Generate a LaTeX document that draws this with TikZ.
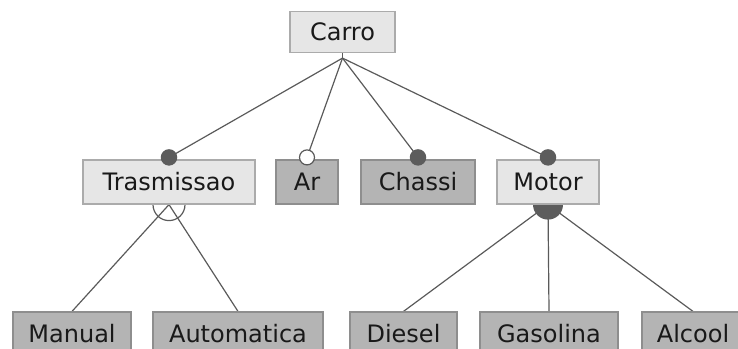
\documentclass[tikz,border=0pt]{standalone}
\usepackage{fontspec}
\setmainfont{DejaVu Sans}
\pgfdeclarelayer{edges}
\pgfdeclarelayer{marks}
\pgfsetlayers{edges,marks,main}
\definecolor{lightbox}{HTML}{E6E6E6}
\definecolor{lightborder}{HTML}{ABABAB}
\definecolor{darkbox}{HTML}{B4B4B4}
\definecolor{darkborder}{HTML}{8E8E8E}
\definecolor{markfill}{HTML}{5C5C5C}
\definecolor{wire}{HTML}{5A5A5A}
\tikzset{
  feat/.style={rectangle, draw=lightborder, fill=lightbox, line width=1.2pt,
    minimum height=44pt, inner sep=0pt, text=black!90,
    font=\fontsize{24}{28}\selectfont},
  leaf/.style={feat, draw=darkborder, fill=darkbox},
  link/.style={draw=wire, line width=1.2pt},
  mandatory/.style={circle, fill=markfill, minimum size=16.5pt, inner sep=0pt},
  optional/.style={circle, fill=white, draw=wire, line width=1.2pt, minimum size=15pt, inner sep=0pt},
  altgroup/.style={draw=wire, line width=1.2pt},
  orgroup/.style={fill=markfill},
}
\begin{document}
\begin{tikzpicture}[x=1pt,y=-1pt]
\useasboundingbox (0,0) rectangle (738,348);
\clip (0,0) rectangle (738,348);
% feature boxes
\node[feat, minimum width=105pt, minimum height=41pt] (carro) at (342.5,32) {Carro};
\node[feat, minimum width=172pt] (trans) at (169,182) {Trasmissao};
\node[leaf, minimum width=62pt] (ar) at (307,182) {Ar};
\node[leaf, minimum width=114pt] (chassi) at (418,182) {Chassi};
\node[feat, minimum width=102pt] (motor) at (548,182) {Motor};
\node[leaf, minimum width=118pt] (manual) at (72,334) {Manual};
\node[leaf, minimum width=170pt] (auto) at (238,334) {Automatica};
\node[leaf, minimum width=107pt] (diesel) at (403.5,334) {Diesel};
\node[leaf, minimum width=138pt] (gasolina) at (549,334) {Gasolina};
\node[leaf, minimum width=102pt] (alcool) at (693,334) {Alcool};
% point below Carro where the four links meet
\coordinate (join) at ([yshift=-5pt]carro.south);
% mandatory / optional markers sit over the top edge of each sub-feature
\node[mandatory] (mtrans) at ([yshift=2pt]trans.north) {};
\node[optional] (mar) at ([yshift=2pt]ar.north) {};
\node[mandatory] (mchassi) at ([yshift=2pt]chassi.north) {};
\node[mandatory] (mmotor) at ([yshift=2pt]motor.north) {};
% alternative group (open arc) and or-group (filled arc) below the parent
\begin{pgfonlayer}{marks}
  \draw[altgroup] (trans.south) circle (16pt);
  \fill[orgroup] (motor.south) circle (15pt);
\end{pgfonlayer}
% connectors
\begin{pgfonlayer}{edges}
  \draw[link] (carro.south) -- (join);
  \draw[link] (join) -- (mtrans.center);
  \draw[link] (join) -- (mar.center);
  \draw[link] (join) -- (mchassi.center);
  \draw[link] (join) -- (mmotor.center);
  \draw[link] (trans.south) -- (manual.north);
  \draw[link] (trans.south) -- (auto.north);
  \draw[link] (motor.south) -- (diesel.north);
  \draw[link] (motor.south) -- (gasolina.north);
  \draw[link] (motor.south) -- (alcool.north);
\end{pgfonlayer}
\end{tikzpicture}
\end{document}
